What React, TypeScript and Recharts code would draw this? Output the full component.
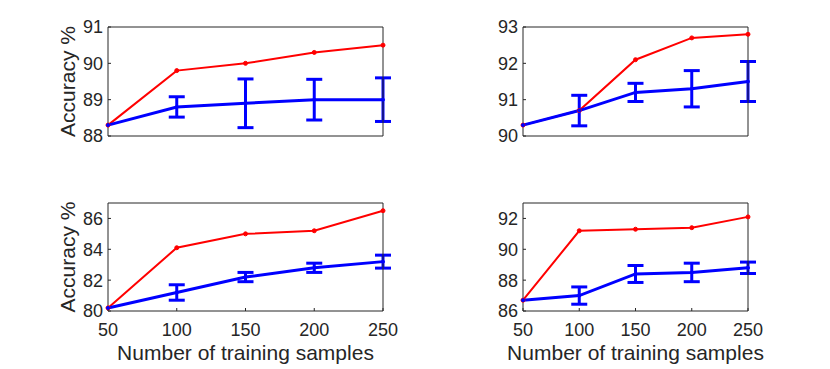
import { LineChart, Line, XAxis, YAxis, ErrorBar } from 'recharts';

const samples = [50, 100, 150, 200, 250];

// top-left
const redA = [88.3, 89.8, 90.0, 90.3, 90.5];
const blueA = [88.3, 88.8, 88.9, 89.0, 89.0];
const errA = [0, 0.28, 0.67, 0.56, 0.6];
const ticksA = [88, 89, 90, 91];

// top-right
const redB = [90.3, 90.7, 92.1, 92.7, 92.8];
const blueB = [90.3, 90.7, 91.2, 91.3, 91.5];
const errB = [0, 0.42, 0.25, 0.5, 0.55];
const ticksB = [90, 91, 92, 93];

// bottom-left
const redC = [80.2, 84.1, 85.0, 85.2, 86.5];
const blueC = [80.2, 81.2, 82.2, 82.8, 83.2];
const errC = [0, 0.5, 0.3, 0.3, 0.42];
const ticksC = [80, 82, 84, 86];
const domainC: [number, number] = [80, 87];

// bottom-right
const redD = [86.7, 91.2, 91.3, 91.4, 92.1];
const blueD = [86.7, 87.0, 88.4, 88.5, 88.8];
const errD = [0, 0.56, 0.55, 0.6, 0.37];
const ticksD = [86, 88, 90, 92];
const domainD: [number, number] = [86, 93];

const FONT = '"Liberation Sans", Arial, Helvetica, sans-serif';
const AXIS = '#262626';

function rows(red: number[], blue: number[], err: number[]) {
  return samples.map((n, i) => ({ n, red: red[i], blue: blue[i], err: err[i] }));
}

interface PanelProps {
  left: number;
  top: number;
  red: number[];
  blue: number[];
  err: number[];
  yTicks: number[];
  yDomain: [number, number];
  bottom: boolean;
  ylabel: boolean;
  marginRight: number;
}

function Panel({ left, top, red, blue, err, yTicks, yDomain, bottom, ylabel, marginRight }: PanelProps) {
  const data = rows(red, blue, err);
  const h = bottom ? 189 : 180;
  const tickStyle = { fontSize: 18, fill: AXIS, fontFamily: FONT };
  return (
    <div style={{ position: 'absolute', left, top }}>
      <LineChart
        width={415}
        height={h}
        data={data}
        margin={{ top: bottom ? 18 : 22, right: marginRight, left: 58, bottom: bottom ? 0 : 14 }}
      >
        <XAxis
          dataKey="n"
          type="number"
          domain={[50, 250]}
          ticks={samples}
          height={bottom ? 58 : 30}
          stroke={AXIS}
          tickSize={-3}
          tickMargin={15}
          tick={bottom ? tickStyle : false}
          label={
            bottom
              ? { value: 'Number of training samples', position: 'insideBottom', offset: 9, style: { fontSize: 21, fill: AXIS, fontFamily: FONT } }
              : undefined
          }
        />
        <XAxis xAxisId="top" orientation="top" type="number" domain={[50, 250]} ticks={samples} height={5} stroke={AXIS} tickSize={-3} tick={false} />
        <YAxis
          domain={yDomain}
          ticks={yTicks}
          width={50}
          stroke={AXIS}
          tickSize={-3}
          tickMargin={8}
          tick={tickStyle}
          label={
            ylabel
              ? { value: 'Accuracy %', angle: -90, position: 'insideLeft', offset: 10, style: { fontSize: 21, fill: AXIS, fontFamily: FONT, textAnchor: 'middle' } }
              : undefined
          }
        />
        <YAxis yAxisId="right" orientation="right" domain={yDomain} ticks={yTicks} width={10} stroke={AXIS} tickSize={-3} tick={false} />
        <Line dataKey="red" stroke="#FF0000" strokeWidth={2} dot={{ r: 2, fill: '#FF0000', stroke: '#FF0000', strokeWidth: 1 }} isAnimationActive={false} />
        <Line dataKey="blue" stroke="#0000FF" strokeWidth={3} dot={{ r: 1.5, fill: '#0000FF', stroke: '#0000FF', strokeWidth: 1 }} isAnimationActive={false}>
          <ErrorBar dataKey="err" width={8} strokeWidth={3} stroke="#0000FF" direction="y" />
        </Line>
      </LineChart>
    </div>
  );
}

export default function App() {
  return (
    <div style={{ position: 'absolute', left: 0, top: 0, width: 830, height: 369, background: '#fff' }}>
      <Panel left={0} top={0} red={redA} blue={blueA} err={errA} yTicks={ticksA} yDomain={[88, 91]} bottom={false} ylabel marginRight={22} />
      <Panel left={415} top={0} red={redB} blue={blueB} err={errB} yTicks={ticksB} yDomain={[90, 93]} bottom={false} ylabel={false} marginRight={72} />
      <Panel left={0} top={180} red={redC} blue={blueC} err={errC} yTicks={ticksC} yDomain={domainC} bottom ylabel marginRight={22} />
      <Panel left={415} top={180} red={redD} blue={blueD} err={errD} yTicks={ticksD} yDomain={domainD} bottom ylabel={false} marginRight={72} />
    </div>
  );
}
